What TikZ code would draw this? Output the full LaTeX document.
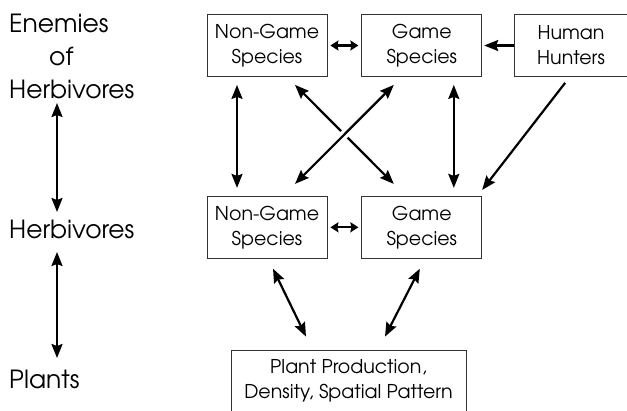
\documentclass[tikz,border=0pt]{standalone}
\usepackage{fontspec}
\setmainfont{texgyreadventor-regular.otf}
\usetikzlibrary{arrows.meta, positioning}
\tikzstyle{box} = [rectangle, minimum width=120pt, minimum height=62pt, inner sep=0pt, text centered, align=center, draw=black!80, line width=0.8pt, font=\fontsize{19}{25}\selectfont]
\tikzstyle{level} = [inner sep=0pt, align=left, font=\fontsize{25}{33}\selectfont]
\tikzstyle{arrow} = [line width=2.2pt, -{Stealth[length=14pt,width=11pt,inset=2pt]}]
\tikzstyle{biarrow} = [line width=2.2pt, {Stealth[length=14pt,width=11pt,inset=2pt]}-{Stealth[length=14pt,width=11pt,inset=2pt]}]
\tikzstyle{short} = [line width=2.2pt, {Stealth[length=8pt,width=10pt,inset=1pt]}-{Stealth[length=8pt,width=10pt,inset=1pt]}]

\begin{document}
\begin{tikzpicture}
    \useasboundingbox (0,0) rectangle (627pt,-410pt);
    % Levels
    \node (enemies) [level, anchor=north west] at (9pt,-14pt) {Enemies\\\hspace*{1.6em}of\\Herbivores};
    \node (herbs) [level, anchor=base west] at (9pt,-238pt) {Herbivores};
    \node (plantsl) [level, anchor=base west] at (9pt,-388pt) {Plants};

    % Boxes
    \node (ngtop) [box] at (267pt,-45.5pt) {Non-Game\\Species};
    \node (gtop) [box, right=34pt of ngtop] {Game\\Species};
    \node (hunters) [box, right=32pt of gtop, minimum width=113pt] {Human\\Hunters};
    \node (ngmid) [box, below=119pt of ngtop] {Non-Game\\Species};
    \node (gmid) [box, below=119pt of gtop] {Game\\Species};
    \node (plants) [box, minimum width=235pt] at (348.5pt,-381pt) {Plant Production,\\Density, Spatial Pattern};

    % Arrows
    \draw [biarrow] (57pt,-103pt) -- (57pt,-212pt);
    \draw [biarrow] (57pt,-252pt) -- (57pt,-358pt);
    \draw [short, shorten <=3pt, shorten >=3pt] (ngtop) -- (gtop);
    \draw [short, shorten <=3pt, shorten >=3pt] (ngmid) -- (gmid);
    \draw [arrow, shorten >=2pt] (hunters) -- (gtop);
    \draw [biarrow] ([xshift=-30pt,yshift=-8pt]ngtop.south) -- ([xshift=-30pt,yshift=8pt]ngmid.north);
    \draw [biarrow] ([xshift=32pt,yshift=-8pt]gtop.south) -- ([xshift=32pt,yshift=8pt]gmid.north);
    \draw [biarrow] ([xshift=28pt,yshift=-8pt]ngtop.south) -- ([xshift=-28pt,yshift=12pt]gmid.north);
    \draw [biarrow, preaction={draw=white, line width=9pt, shorten <=20pt, shorten >=20pt}] ([xshift=-28pt,yshift=-8pt]gtop.south) -- ([xshift=28pt,yshift=12pt]ngmid.north);
    \draw [arrow] ([xshift=-6pt,yshift=-6pt]hunters.south) -- ([yshift=6pt]gmid.north east);
    \draw [biarrow] ([xshift=6pt,yshift=-10pt]ngmid.south) -- ([xshift=-42.5pt,yshift=13pt]plants.north);
    \draw [biarrow] ([xshift=-2pt,yshift=-10pt]gmid.south) -- ([xshift=36.5pt,yshift=13pt]plants.north);
\end{tikzpicture}
\end{document}
